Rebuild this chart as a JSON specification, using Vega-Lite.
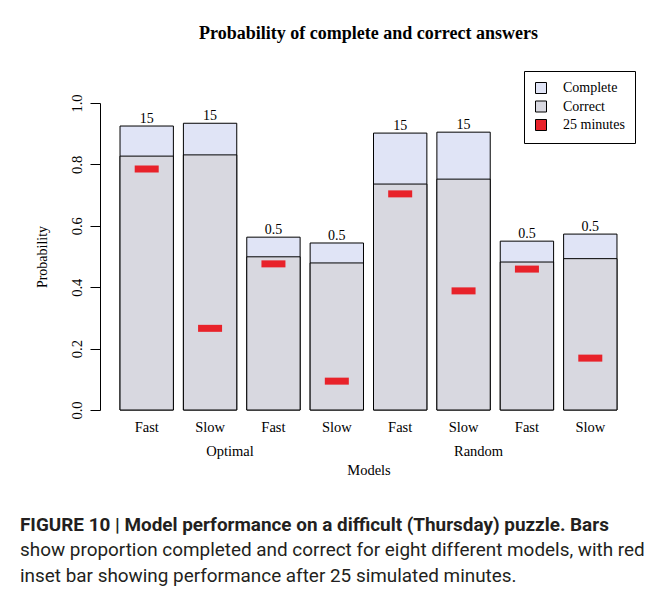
{
  "$schema": "https://vega.github.io/schema/vega-lite/v6.json",
  "padding": {"left": 20, "top": 24, "right": 0, "bottom": 0},
  "background": "white",
  "title": {
    "text": "FIGURE 10 | Model performance on a difficult (Thursday) puzzle. Bars",
    "subtitle": ["show proportion completed and correct for eight different models, with red", "inset bar showing performance after 25 simulated minutes."],
    "orient": "bottom",
    "anchor": "start",
    "frame": "bounds",
    "dx": -15,
    "offset": 39,
    "font": "Liberation Sans Narrow, Roboto",
    "fontSize": 18.9,
    "fontWeight": "bold",
    "color": "#231f20",
    "subtitleFont": "Liberation Sans Narrow, Roboto",
    "subtitleFontSize": 18.9,
    "subtitleFontWeight": "normal",
    "subtitleColor": "#231f20",
    "subtitlePadding": 6,
    "subtitleLineHeight": 26
  },
  "vconcat": [
    {
      "width": 537,
      "height": 307,
      "title": {
        "text": "Probability of complete and correct answers",
        "font": "Liberation Serif",
        "fontSize": 18,
        "fontWeight": "bold",
        "color": "black",
        "anchor": "middle",
        "frame": "group",
        "offset": 51
      },
      "data": {
        "values": [
          {"id": "O1", "speed": "Fast", "group": "Optimal", "complete": 0.925, "correct": 0.827, "m25": 0.785, "param": "15"},
          {"id": "O2", "speed": "Slow", "group": "Optimal", "complete": 0.934, "correct": 0.831, "m25": 0.266, "param": "15"},
          {"id": "O3", "speed": "Fast", "group": "Optimal", "complete": 0.563, "correct": 0.499, "m25": 0.476, "param": "0.5"},
          {"id": "O4", "speed": "Slow", "group": "Optimal", "complete": 0.544, "correct": 0.479, "m25": 0.094, "param": "0.5"},
          {"id": "R1", "speed": "Fast", "group": "Random", "complete": 0.902, "correct": 0.736, "m25": 0.704, "param": "15"},
          {"id": "R2", "speed": "Slow", "group": "Random", "complete": 0.905, "correct": 0.752, "m25": 0.388, "param": "15"},
          {"id": "R3", "speed": "Fast", "group": "Random", "complete": 0.550, "correct": 0.482, "m25": 0.459, "param": "0.5"},
          {"id": "R4", "speed": "Slow", "group": "Random", "complete": 0.573, "correct": 0.493, "m25": 0.169, "param": "0.5"}
        ]
      },
      "resolve": {"axis": {"x": "independent"}},
      "layer": [
        {
          "mark": {"type": "bar", "stroke": "black", "strokeWidth": 1},
          "encoding": {
            "x": {
              "field": "id", "type": "nominal", "sort": null,
              "scale": {"paddingInner": 0.158, "paddingOuter": 0.316},
              "axis": {
                "orient": "bottom",
                "labelExpr": "indexof(['O1','O3','R1','R3'], datum.value) >= 0 ? 'Fast' : 'Slow'",
                "labelAngle": 0,
                "labelFont": "Liberation Serif",
                "labelFontSize": 14.5,
                "labelColor": "black",
                "labelPadding": 10,
                "domain": false,
                "ticks": false,
                "title": null
              }
            },
            "y": {
              "field": "complete", "type": "quantitative",
              "scale": {"domain": [0, 1], "nice": false},
              "axis": {
                "title": "Probability",
                "titleFont": "Liberation Serif",
                "titleFontSize": 14,
                "titleFontWeight": "normal",
                "titleColor": "black",
                "titlePadding": 20,
                "values": [0, 0.2, 0.4, 0.6, 0.8, 1.0],
                "format": ".1f",
                "labelFont": "Liberation Serif",
                "labelFontSize": 14.5,
                "labelColor": "black",
                "labelAngle": -90,
                "labelAlign": "center",
                "labelBaseline": "bottom",
                "labelPadding": 6,
                "tickSize": 10,
                "tickColor": "black",
                "domainColor": "black",
                "grid": false
              }
            },
            "color": {
              "datum": "Complete",
              "type": "nominal",
              "scale": {"domain": ["Complete", "Correct", "25 minutes"], "range": ["#e0e4f6", "#d8d8e0", "#e8222a"]},
              "legend": {
                "title": null,
                "orient": "none",
                "legendX": 424,
                "legendY": -32,
                "strokeColor": "black",
                "fillColor": "white",
                "padding": 10,
                "symbolType": "square",
                "symbolSize": 121,
                "symbolStrokeColor": "black",
                "symbolStrokeWidth": 1,
                "symbolOpacity": 1,
                "labelFont": "Liberation Serif",
                "labelFontSize": 14,
                "labelColor": "black",
                "labelOffset": 15,
                "rowPadding": 2.5
              }
            }
          }
        },
        {
          "mark": {"type": "bar", "stroke": "black", "strokeWidth": 1},
          "encoding": {
            "x": {"field": "id", "type": "nominal", "sort": null, "axis": null},
            "y": {"field": "correct", "type": "quantitative"},
            "color": {"datum": "Correct", "type": "nominal"}
          }
        },
        {
          "mark": {"type": "tick", "size": 24, "thickness": 7, "opacity": 1},
          "encoding": {
            "x": {"field": "id", "type": "nominal", "sort": null, "axis": null},
            "y": {"field": "m25", "type": "quantitative"},
            "color": {"datum": "25 minutes", "type": "nominal"}
          }
        },
        {
          "mark": {"type": "text", "font": "Liberation Serif", "fontSize": 14, "baseline": "alphabetic", "dy": -3, "color": "black"},
          "encoding": {
            "x": {
              "field": "id", "type": "nominal", "sort": null,
              "axis": {
                "orient": "bottom",
                "labelExpr": "datum.value == 'O2' ? 'Optimal' : (datum.value == 'R2' ? 'Random' : '')",
                "labelAngle": 0,
                "labelOffset": {"condition": {"test": "datum.value == 'O2'", "value": 20}, "value": 15},
                "labelFont": "Liberation Serif",
                "labelFontSize": 14.5,
                "labelColor": "black",
                "labelPadding": 34,
                "domain": false,
                "ticks": false,
                "title": "Models",
                "titleFont": "Liberation Serif",
                "titleFontSize": 14.5,
                "titleFontWeight": "normal",
                "titleColor": "black",
                "titlePadding": 6
              }
            },
            "y": {"field": "complete", "type": "quantitative"},
            "text": {"field": "param"}
          }
        }
      ]
    }
  ],
  "config": {
    "view": {"stroke": null},
    "concat": {"spacing": 0}
  }
}
